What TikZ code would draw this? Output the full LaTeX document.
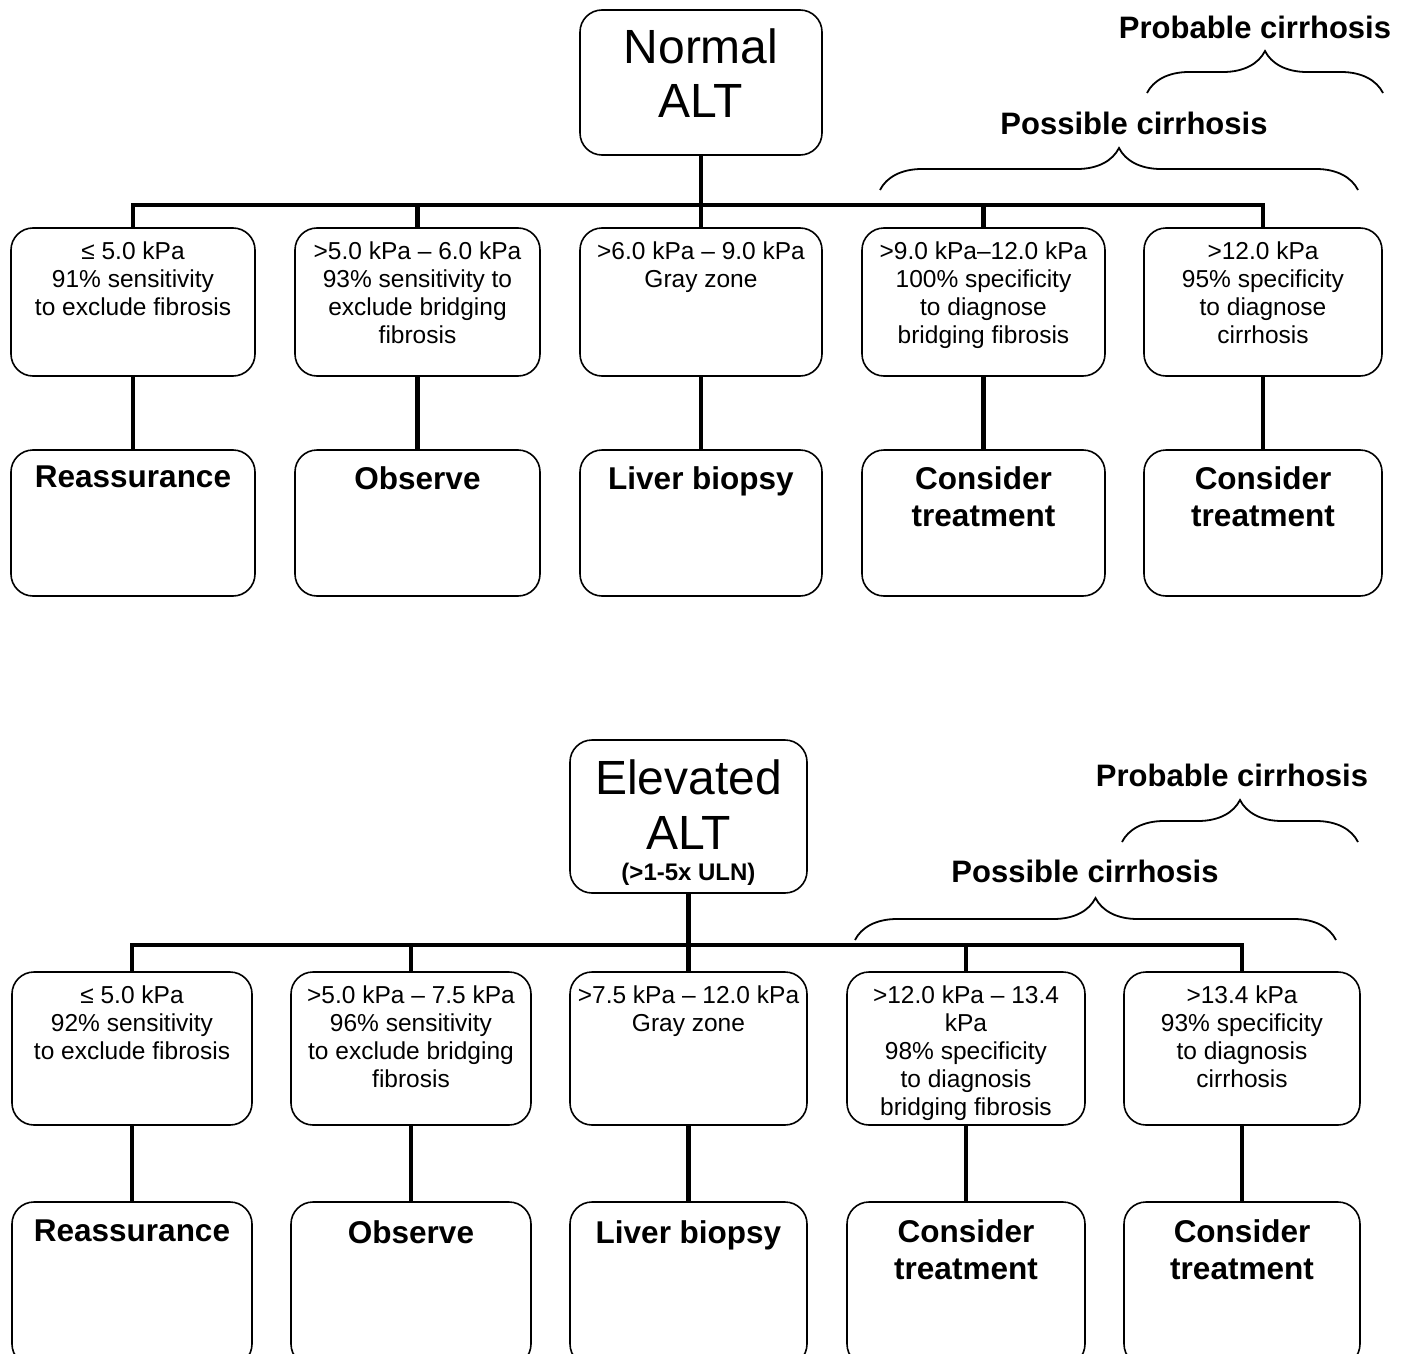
\documentclass[tikz,border=0pt]{standalone}
\usepackage{fontspec}
\setmainfont{Liberation Sans}
\usetikzlibrary{decorations.pathreplacing}
\begin{document}
\begin{tikzpicture}[x=1pt,y=1pt,
  box/.style={draw, line width=1.6pt, rounded corners=22pt, inner sep=0pt},
  small/.style={font=\fontsize{24.5}{27.8}\selectfont, align=center, inner sep=0pt, anchor=north},
  act/.style={font=\fontsize{31.5}{37}\selectfont\bfseries, align=center, inner sep=0pt, anchor=north},
  big/.style={font=\fontsize{48}{54}\selectfont, align=center, inner sep=0pt},
  lab/.style={font=\fontsize{31}{34}\selectfont\bfseries, inner sep=0pt},
  conn/.style={line width=4.2pt},
  brc/.style={decorate, decoration={brace, amplitude=42pt, aspect=0.5}, line width=1.8pt}
]
\useasboundingbox[fill=white] (0,0) rectangle (1409,-1354);

% ================= TOP TREE =================
\node[box, minimum width=242pt, minimum height=145pt] (troot) at (701,-82.5) {};
\node[big] (troottxt) at (701,-73.5) {Normal\\ALT};

\node[box, minimum width=244pt, minimum height=148pt] (t1) at (133,-302) {};
\node[box, minimum width=245pt, minimum height=148pt] (t2) at (417.5,-302) {};
\node[box, minimum width=242pt, minimum height=148pt] (t3) at (701,-302) {};
\node[box, minimum width=243pt, minimum height=148pt] (t4) at (983.5,-302) {};
\node[box, minimum width=238pt, minimum height=148pt] (t5) at (1263,-302) {};

\node[small] (t1txt) at (133,-242) {≤ 5.0 kPa\\91\% sensitivity\\to exclude fibrosis};
\node[small] (t2txt) at (417.5,-242) {>5.0 kPa – 6.0 kPa\\93\% sensitivity to\\exclude bridging\\fibrosis};
\node[small] (t3txt) at (701,-242) {>6.0 kPa – 9.0 kPa\\Gray zone};
\node[small] (t4txt) at (983.5,-242) {>9.0 kPa–12.0 kPa\\100\% specificity\\to diagnose\\bridging fibrosis};
\node[small] (t5txt) at (1263,-242) {>12.0 kPa\\95\% specificity\\to diagnose\\cirrhosis};

\node[box, minimum width=244pt, minimum height=146pt] (u1) at (133,-523) {};
\node[box, minimum width=245pt, minimum height=146pt] (u2) at (417.5,-523) {};
\node[box, minimum width=242pt, minimum height=146pt] (u3) at (701,-523) {};
\node[box, minimum width=243pt, minimum height=146pt] (u4) at (983.5,-523) {};
\node[box, minimum width=238pt, minimum height=146pt] (u5) at (1263,-523) {};

\node[act] (u1txt) at (133,-466) {Reassurance};
\node[act] (u2txt) at (417.5,-466) {Observe};
\node[act] (u3txt) at (701,-466) {Liver biopsy};
\node[act] (u4txt) at (983.5,-466) {Consider\\treatment};
\node[act] (u5txt) at (1263,-466) {Consider\\treatment};

\coordinate (tbus) at (0,-205);
\draw[conn] (troot.south) -- (troot.south |- tbus);
\draw[conn] (t1.north) -- (t1.north |- tbus) -- (t5.north |- tbus) -- (t5.north);
\foreach \k in {2,3,4}{\draw[conn] (t\k.north |- tbus) -- (t\k.north);}
\foreach \k in {1,...,5}{\draw[conn] (t\k.south) -- (u\k.north);}

\coordinate (tpossL) at (880,-190);
\coordinate (tpossR) at (1358,-190);
\draw[brc] (tpossL) -- (tpossR);
\node[lab] (tposs) at (1134,-123) {Possible cirrhosis};
\coordinate (tprobL) at (1147,-93);
\coordinate (tprobR) at (1383,-93);
\draw[brc] (tprobL) -- (tprobR);
\node[lab] (tprob) at (1255,-27) {Probable cirrhosis};

% ================= BOTTOM TREE =================
\node[box, minimum width=237pt, minimum height=153pt] (broot) at (688.5,-816.5) {};
\node[big, anchor=north, font=\fontsize{48}{55}\selectfont] (broottxt) at (688.5,-760) {Elevated\\ALT};
\node[font=\fontsize{24}{28}\selectfont\bfseries, inner sep=0pt] (brootsub) at (688.5,-874) {(>1-5x ULN)};

\node[box, minimum width=240pt, minimum height=153pt] (b1) at (132,-1048.5) {};
\node[box, minimum width=240pt, minimum height=153pt] (b2) at (411,-1048.5) {};
\node[box, minimum width=237pt, minimum height=153pt] (b3) at (688.5,-1048.5) {};
\node[box, minimum width=238pt, minimum height=153pt] (b4) at (966,-1048.5) {};
\node[box, minimum width=236pt, minimum height=153pt] (b5) at (1242,-1048.5) {};

\node[small] (b1txt) at (132,-986) {≤ 5.0 kPa\\92\% sensitivity\\to exclude fibrosis};
\node[small] (b2txt) at (411,-986) {>5.0 kPa – 7.5 kPa\\96\% sensitivity\\to exclude bridging\\fibrosis};
\node[small] (b3txt) at (688.5,-986) {>7.5 kPa – 12.0 kPa\\Gray zone};
\node[small] (b4txt) at (966,-986) {>12.0 kPa – 13.4\\kPa\\98\% specificity\\to diagnosis\\bridging fibrosis};
\node[small] (b5txt) at (1242,-986) {>13.4 kPa\\93\% specificity\\to diagnosis\\cirrhosis};

\node[box, minimum width=240pt, minimum height=164pt] (c1) at (132,-1284) {};
\node[box, minimum width=240pt, minimum height=164pt] (c2) at (411,-1284) {};
\node[box, minimum width=237pt, minimum height=164pt] (c3) at (688.5,-1284) {};
\node[box, minimum width=238pt, minimum height=164pt] (c4) at (966,-1284) {};
\node[box, minimum width=236pt, minimum height=164pt] (c5) at (1242,-1284) {};

\node[act] (c1txt) at (132,-1220) {Reassurance};
\node[act] (c2txt) at (411,-1220) {Observe};
\node[act] (c3txt) at (688.5,-1220) {Liver biopsy};
\node[act] (c4txt) at (966,-1219) {Consider\\treatment};
\node[act] (c5txt) at (1242,-1219) {Consider\\treatment};

\coordinate (bbus) at (0,-945);
\draw[conn] (broot.south) -- (broot.south |- bbus);
\draw[conn] (b1.north) -- (b1.north |- bbus) -- (b5.north |- bbus) -- (b5.north);
\foreach \k in {2,3,4}{\draw[conn] (b\k.north |- bbus) -- (b\k.north);}
\foreach \k in {1,...,5}{\draw[conn] (b\k.south) -- (c\k.north);}

\coordinate (bpossL) at (855,-940);
\coordinate (bpossR) at (1336,-940);
\draw[brc] (bpossL) -- (bpossR);
\node[lab] (bposs) at (1085,-871) {Possible cirrhosis};
\coordinate (bprobL) at (1122,-842);
\coordinate (bprobR) at (1358,-842);
\draw[brc] (bprobL) -- (bprobR);
\node[lab] (bprob) at (1232,-775) {Probable cirrhosis};
\end{tikzpicture}
\end{document}
